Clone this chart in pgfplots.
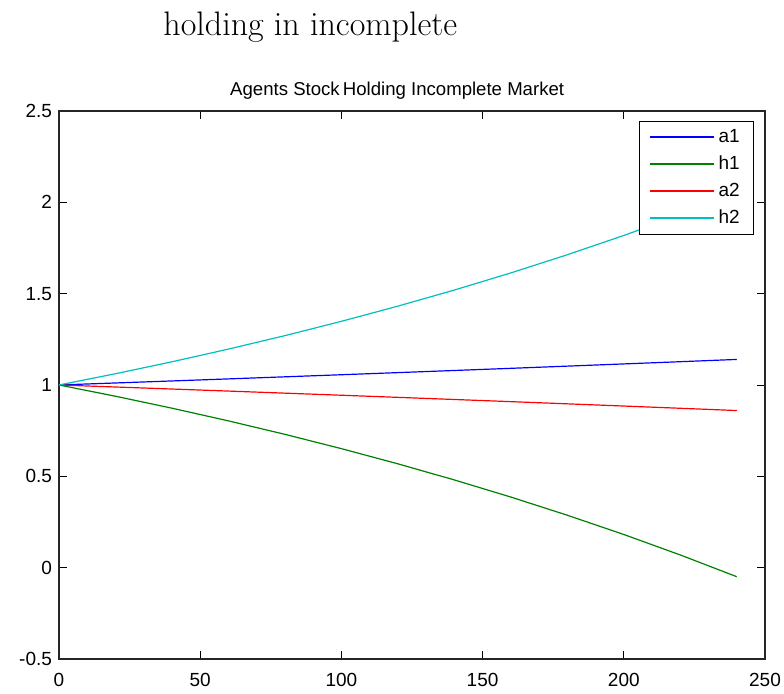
\documentclass[border=0pt]{standalone}
\usepackage{fontspec}
\usepackage{pgfplots}
\pgfplotsset{compat=1.18}
\newfontfamily\arial{Liberation Sans}

\definecolor{mblue}{rgb}{0,0,1}
\definecolor{mgreen}{rgb}{0,0.5,0}
\definecolor{mred}{rgb}{1,0,0}
\definecolor{mcyan}{rgb}{0,0.75,0.75}

\begin{document}
\begin{tikzpicture}
\path[use as bounding box] (-29.5pt,-17.5pt) rectangle (362.5pt,329.5pt);
\begin{axis}[
  at={(0pt,0pt)}, anchor=south west,
  scale only axis, width=353pt, height=274pt,
  xmin=0, xmax=250, ymin=-0.5, ymax=2.5,
  xtick={0,50,...,250},
  ytick={-0.5,0,0.5,1,1.5,2,2.5},
  tick align=inside,
  major tick length=4pt,
  axis line style={line width=0.6pt, black!85},
  every tick/.style={black, line width=0.4pt},
  tick label style={font=\arial\fontsize{9.5}{11}\selectfont},
  /pgf/number format/assume math mode=true,
  xticklabel style={yshift=-3.5pt},
  title={Agents Stock\,Holding Incomplete Market},
  title style={font=\arial\fontsize{9.3}{11}\selectfont, at={(0.479,1)}, anchor=base, yshift=1.5pt},
  legend style={at={(rel axis cs:0.9845,0.982)}, anchor=north east,
    font=\arial\fontsize{9.5}{11}\selectfont,
    inner xsep=5pt, inner ysep=2pt, row sep=1.2pt, cells={anchor=west}},
  legend cell align=left,
  legend image code/.code={\draw[#1, line width=0.8pt] plot coordinates {(0pt,0pt) (16pt,0pt) (32pt,0pt)};},
]
\addplot[color=mblue, line width=0.6pt] coordinates {
 (0,1) (20,1.0110) (40,1.0221) (60,1.0333) (80,1.0447) (100,1.0561) (120,1.0677)
 (140,1.0794) (160,1.0912) (180,1.1032) (200,1.1153) (220,1.1275) (240,1.1399)};
\addlegendentry{a1}
\addplot[color=mgreen, line width=0.6pt] coordinates {
 (0,1) (20,0.9384) (40,0.8730) (60,0.8035) (80,0.7298) (100,0.6515) (120,0.5684)
 (140,0.4802) (160,0.3865) (180,0.2870) (200,0.1815) (220,0.0695) (240,-0.0495)};
\addlegendentry{h1}
\addplot[color=mred, line width=0.6pt] coordinates {
 (0,1) (20,0.9890) (40,0.9779) (60,0.9667) (80,0.9553) (100,0.9439) (120,0.9323)
 (140,0.9206) (160,0.9088) (180,0.8968) (200,0.8847) (220,0.8725) (240,0.8601)};
\addlegendentry{a2}
\addplot[color=mcyan, line width=0.6pt] coordinates {
 (0,1) (20,1.0616) (40,1.1270) (60,1.1965) (80,1.2702) (100,1.3485) (120,1.4316)
 (140,1.5198) (160,1.6135) (180,1.7130) (200,1.8185) (220,1.9305) (240,2.0495)};
\addlegendentry{h2}
\end{axis}
\node[anchor=base west, inner sep=0pt, font=\fontsize{17}{20}\selectfont] at (52pt,311.5pt) {holding in incomplete};
\end{tikzpicture}
\end{document}
